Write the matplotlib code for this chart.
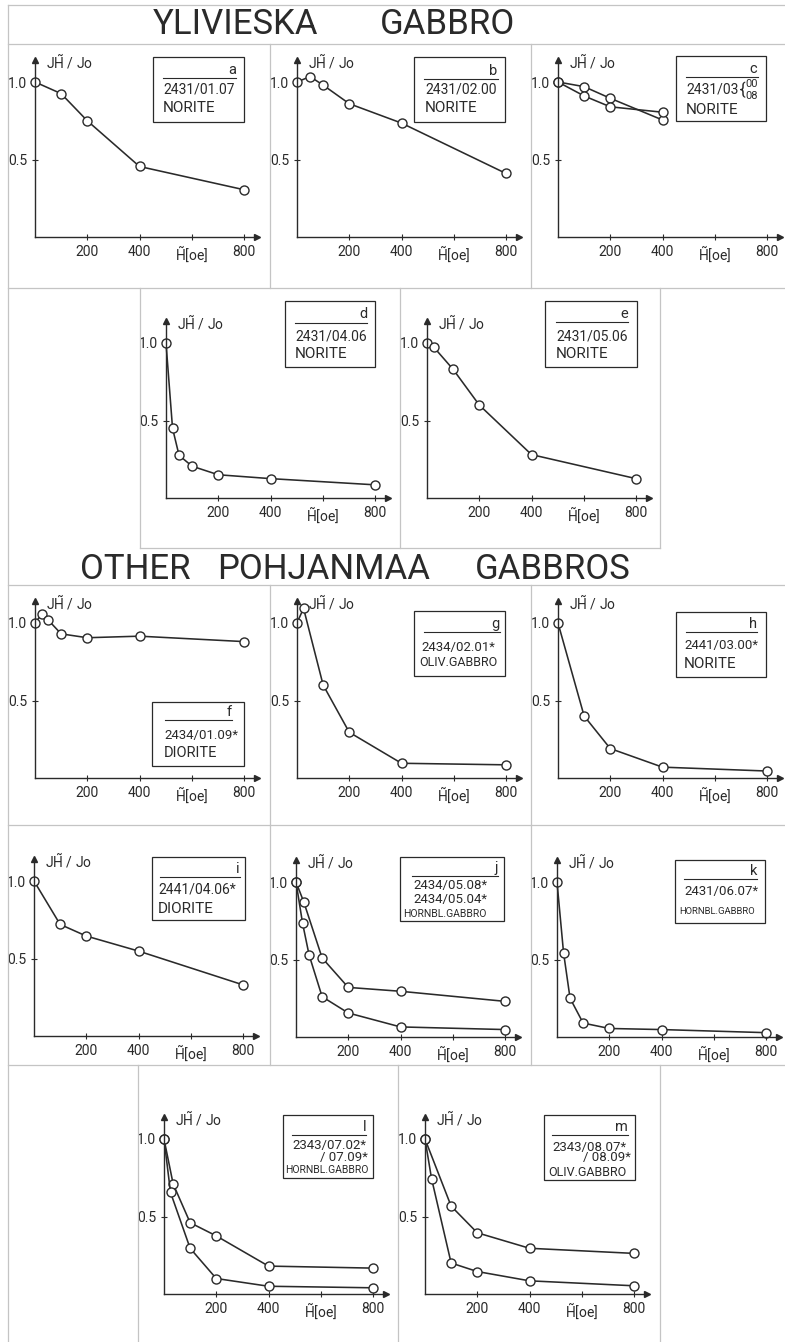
import matplotlib
matplotlib.use("Agg")
import matplotlib.pyplot as plt
from matplotlib.lines import Line2D
from matplotlib.patches import Rectangle

plt.rcParams['font.family'] = ['Roboto', 'DejaVu Sans']
plt.rcParams['mathtext.fontset'] = 'custom'
plt.rcParams['mathtext.rm'] = 'Roboto'

# ---------------- data (H in oe, J_H/J0) ----------------
a_x = [0, 100, 200, 400, 800]
a_y = [1.0, 0.925, 0.75, 0.455, 0.305]
b_x = [0, 50, 100, 200, 400, 800]
b_y = [1.0, 1.035, 0.98, 0.86, 0.735, 0.41]
c1_x = [0, 100, 200, 400]
c1_y = [1.0, 0.97, 0.895, 0.755]
c2_x = [0, 100, 200, 400]
c2_y = [1.0, 0.91, 0.84, 0.805]
d_x = [0, 25, 50, 100, 200, 400, 800]
d_y = [1.0, 0.45, 0.275, 0.205, 0.15, 0.125, 0.085]
e_x = [0, 25, 100, 200, 400, 800]
e_y = [1.0, 0.975, 0.83, 0.60, 0.28, 0.125]
f_x = [0, 25, 50, 100, 200, 400, 800]
f_y = [1.0, 1.055, 1.02, 0.93, 0.905, 0.915, 0.88]
g_x = [0, 25, 100, 200, 400, 800]
g_y = [1.0, 1.095, 0.60, 0.295, 0.095, 0.085]
h_x = [0, 100, 200, 400, 800]
h_y = [1.0, 0.40, 0.19, 0.07, 0.045]
i_x = [0, 100, 200, 400, 800]
i_y = [1.0, 0.72, 0.645, 0.548, 0.33]
j1_x = [0, 30, 100, 200, 400, 800]
j1_y = [1.0, 0.87, 0.51, 0.32, 0.295, 0.23]
j2_x = [0, 25, 50, 100, 200, 400, 800]
j2_y = [1.0, 0.735, 0.53, 0.26, 0.155, 0.065, 0.048]
k_x = [0, 25, 50, 100, 200, 400, 800]
k_y = [1.0, 0.545, 0.25, 0.09, 0.055, 0.048, 0.028]
l1_x = [0, 35, 100, 200, 400, 800]
l1_y = [1.0, 0.71, 0.46, 0.375, 0.18, 0.167]
l2_x = [0, 25, 100, 200, 400, 800]
l2_y = [1.0, 0.655, 0.295, 0.10, 0.05, 0.04]
m1_x = [0, 100, 200, 400, 800]
m1_y = [1.0, 0.567, 0.395, 0.295, 0.262]
m2_x = [0, 25, 100, 200, 400, 800]
m2_y = [1.0, 0.745, 0.20, 0.145, 0.085, 0.053]

x_ticks = [200, 400, 600, 800]
x_ticklabels = ['200', '400', r'$\tilde{\mathrm{H}}$[oe]', '800']
y_ticks = [0.5, 1.0]
y_ticklabels = ['0.5', '1.0']
y_label = r'J$\tilde{\mathrm{H}}$ / Jo'

# ---------------- layout ----------------
W, H = 785, 1342
fig = plt.figure(figsize=(W / 100, H / 100), dpi=100)
fig.patch.set_facecolor('white')

INK = '#2a2a2a'
FRAME = '#c4c4c4'


def fx(x):
    return x / W


def fy(y):
    return 1 - y / H


def hline(x0, x1, y, color=FRAME, lw=0.9):
    fig.add_artist(Line2D([fx(x0), fx(x1)], [fy(y), fy(y)],
                          transform=fig.transFigure, color=color, lw=lw))


def vline(x, y0, y1, color=FRAME, lw=0.9):
    fig.add_artist(Line2D([fx(x), fx(x)], [fy(y0), fy(y1)],
                          transform=fig.transFigure, color=color, lw=lw))


def ftext(x, y, s, ha='left', size=9.5, **kw):
    fig.text(fx(x), fy(y), s, ha=ha, va='center', fontsize=size,
             color=INK, **kw)


# frame lines
vline(8, 5, H)
hline(8, W, 5)
hline(8, W, 44)
vline(270, 44, 288)
vline(531, 44, 288)
hline(8, W, 288)
vline(140, 288, 548)
vline(400, 288, 548)
vline(660, 288, 548)
hline(140, 660, 548)
hline(8, W, 585)
vline(270, 585, 825)
vline(531, 585, 825)
hline(8, W, 825)
vline(270, 825, 1065)
vline(531, 825, 1065)
hline(8, W, 1065)
vline(138, 1065, H)
vline(398, 1065, H)
vline(660, 1065, H)

# titles
for word, cx in [('YLIVIESKA', 236), ('GABBRO', 447)]:
    fig.text(fx(cx), fy(25), word, ha='center', va='center', fontsize=25,
             fontweight='normal', color=INK)
for word, cx in [('OTHER', 135), ('POHJANMAA', 324), ('GABBROS', 553)]:
    fig.text(fx(cx), fy(570), word, ha='center', va='center', fontsize=25,
             fontweight='normal', color=INK)

XMAX, YMAX = 850, 1.16
PX800, PY1 = 209, 155


def panel(ox, oy, series):
    ax = fig.add_axes([fx(ox), fy(oy), XMAX / 800 * PX800 / W, YMAX * PY1 / H])
    ax.set_xlim(0, XMAX)
    ax.set_ylim(0, YMAX)
    ax.patch.set_alpha(0)
    for s in ax.spines.values():
        s.set_visible(False)
    ax.plot([0, 842], [0, 0], color=INK, lw=1.0, clip_on=False, zorder=3)
    ax.plot([0, 0], [0, 1.13], color=INK, lw=1.0, clip_on=False, zorder=3)
    ax.plot([848], [0], marker='>', ms=4, color=INK, clip_on=False, zorder=3)
    ax.plot([0], [1.145], marker='^', ms=4, color=INK, clip_on=False, zorder=3)
    ax.set_xticks(x_ticks)
    ax.set_xticklabels(x_ticklabels)
    ax.set_yticks(y_ticks)
    ax.set_yticklabels(y_ticklabels)
    ax.tick_params(direction='inout', length=5, width=0.8, color=INK,
                   labelcolor=INK, labelsize=10, pad=3)
    for xs, ys in series:
        ax.plot(xs, ys, '-o', color=INK, lw=1.15, ms=6.5, mfc='white', mec=INK,
                mew=1.0, clip_on=False, zorder=2)
    ax.text(44, 1.13, y_label, fontsize=10, va='center', ha='left', color=INK)
    return ax


def box(l, t, r, b, sep):
    fig.add_artist(Rectangle((fx(l), fy(b)), (r - l) / W, (b - t) / H,
                             transform=fig.transFigure, fill=False,
                             ec=INK, lw=0.9))
    hline(sep[0], sep[1], sep[2], color=INK, lw=0.8)


# row 1
panel(35, 237, [(a_x, a_y)])
box(153, 57, 244, 122, (163, 236, 78))
ftext(236, 70, 'a', 'right', 10.5)
ftext(163, 89, '2431/01.07', 'left', 10)
ftext(163, 108, 'NORITE', 'left', 11)

panel(297, 237, [(b_x, b_y)])
box(414, 57, 505, 122, (424, 498, 79))
ftext(497, 71, 'b', 'right', 10.5)
ftext(425, 90, '2431/02.00', 'left', 10)
ftext(425, 108, 'NORITE', 'left', 11)

panel(558, 237, [(c1_x, c1_y), (c2_x, c2_y)])
box(676, 56, 766, 121, (686, 758, 77))
ftext(757, 69, 'c', 'right', 10.5)
ftext(686, 90, '2431/03', 'left', 10)
ftext(740, 90, '{', 'left', 12)
ftext(745, 84, '00', 'left', 8)
ftext(745, 96, '08', 'left', 8)
ftext(686, 110, 'NORITE', 'left', 11)

# row 2
panel(166, 498, [(d_x, d_y)])
box(285, 301, 375, 367, (295, 367, 323))
ftext(367, 314, 'd', 'right', 10.5)
ftext(295, 336, '2431/04.06', 'left', 10)
ftext(295, 354, 'NORITE', 'left', 11)

panel(427, 498, [(e_x, e_y)])
box(545, 301, 637, 367, (556, 628, 322))
ftext(628, 314, 'e', 'right', 10.5)
ftext(556, 336, '2431/05.06', 'left', 10)
ftext(556, 354, 'NORITE', 'left', 11)

# row 3
panel(35, 778, [(f_x, f_y)])
box(152, 702, 244, 766, (165, 232, 720))
ftext(232, 712, 'f', 'right', 10.5)
ftext(164, 735, '2434/01.09*', 'left', 9.5)
ftext(164, 753, 'DIORITE', 'left', 10.5)

panel(297, 778, [(g_x, g_y)])
box(414, 611, 505, 676, (424, 500, 632))
ftext(500, 624, 'g', 'right', 10.5)
ftext(421, 647, '2434/02.01*', 'left', 9.5)
ftext(419, 663, 'OLIV.GABBRO', 'left', 9)

panel(558, 778, [(h_x, h_y)])
box(676, 612, 766, 677, (686, 757, 632))
ftext(757, 624, 'h', 'right', 10.5)
ftext(684, 645, '2441/03.00*', 'left', 9.5)
ftext(684, 664, 'NORITE', 'left', 11)

# row 4
panel(34, 1036, [(i_x, i_y)])
box(152, 857, 245, 920, (160, 240, 877))
ftext(240, 869, 'i', 'right', 10.5)
ftext(158, 890, '2441/04.06*', 'left', 10)
ftext(158, 909, 'DIORITE', 'left', 11)

panel(296, 1037, [(j1_x, j1_y), (j2_x, j2_y)])
box(400, 857, 504, 921, (412, 498, 876))
ftext(498, 868, 'j', 'right', 10.5)
ftext(413, 886, '2434/05.08*', 'left', 9.5)
ftext(413, 900, '2434/05.04*', 'left', 9.5)
ftext(403, 914, 'HORNBL.GABBRO', 'left', 7.5)

panel(557, 1037, [(k_x, k_y)])
box(675, 860, 765, 923, (684, 757, 879))
ftext(757, 871, 'k', 'right', 10.5)
ftext(684, 892, '2431/06.07*', 'left', 9.5)
ftext(679, 912, 'HORNBL.GABBRO', 'left', 6.8)

# row 5
panel(164, 1294, [(l1_x, l1_y), (l2_x, l2_y)])
box(283, 1115, 373, 1178, (292, 366, 1135))
ftext(366, 1127, 'l', 'right', 10.5)
ftext(292, 1146, '2343/07.02*', 'left', 9.5)
ftext(368, 1157, '/ 07.09*', 'right', 9.5)
ftext(285, 1170, 'HORNBL.GABBRO', 'left', 7.5)

panel(425, 1294, [(m1_x, m1_y), (m2_x, m2_y)])
box(544, 1115, 635, 1180, (552, 628, 1135))
ftext(628, 1127, 'm', 'right', 10.5)
ftext(552, 1147, '2343/08.07*', 'left', 9.5)
ftext(631, 1158, '/ 08.09*', 'right', 9.5)
ftext(548, 1173, 'OLIV.GABBRO', 'left', 9)

fig.savefig('out.png', dpi=100, facecolor='white')
